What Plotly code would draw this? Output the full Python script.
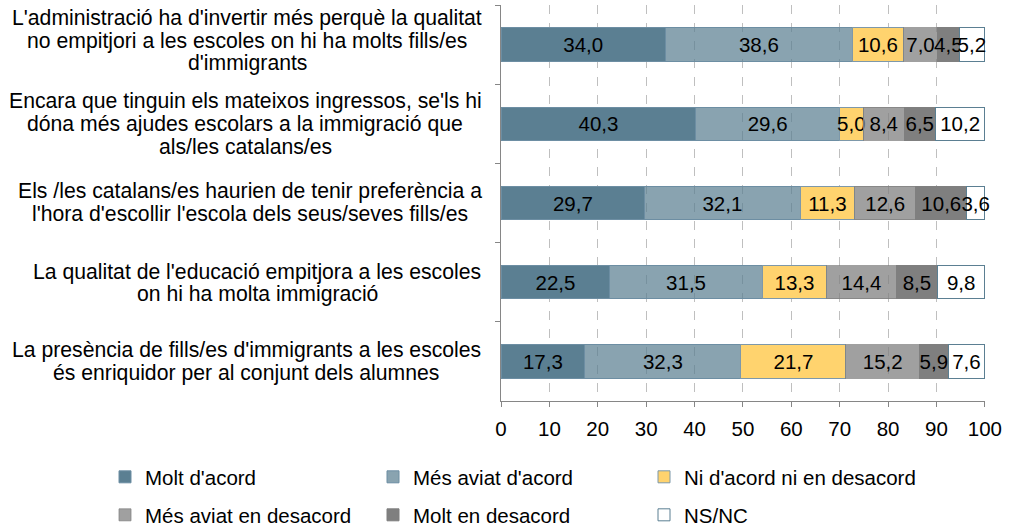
import plotly.graph_objects as go

category_lines = [
    ["L'administració ha d'invertir més perquè la qualitat",
     "no empitjori a les escoles on hi ha molts fills/es",
     "d'immigrants"],
    ["Encara que tinguin els mateixos ingressos, se'ls hi",
     "dóna més ajudes escolars a la immigració que",
     "als/les catalans/es"],
    ["Els /les catalans/es haurien de tenir preferència a",
     "l'hora d'escollir l'escola dels seus/seves fills/es"],
    ["La qualitat de l'educació empitjora a les escoles",
     "on hi ha molta immigració"],
    ["La presència de fills/es d'immigrants a les escoles",
     "és enriquidor per al conjunt dels alumnes"],
]
cat_ids = ["c1", "c2", "c3", "c4", "c5"]

series_names = ["Molt d'acord", "Més aviat d'acord", "Ni d'acord ni en desacord",
                "Més aviat en desacord", "Molt en desacord", "NS/NC"]

molt_acord = [34.0, 40.3, 29.7, 22.5, 17.3]
mes_aviat_acord = [38.6, 29.6, 32.1, 31.5, 32.3]
ni_ni = [10.6, 5.0, 11.3, 13.3, 21.7]
mes_aviat_desacord = [7.0, 8.4, 12.6, 14.4, 15.2]
molt_desacord = [4.5, 6.5, 10.6, 8.5, 5.9]
ns_nc = [5.2, 10.2, 3.6, 9.8, 7.6]

values = [molt_acord, mes_aviat_acord, ni_ni, mes_aviat_desacord, molt_desacord, ns_nc]
fills = ["#5b7f92", "rgba(91,127,146,0.72)", "#ffd36e", "rgba(128,128,128,0.75)", "#7f7f7f", "#ffffff"]
edges = ["#6d8ea3", "#6d8ea3", "#7d98aa", "rgba(128,128,128,0.75)", "#7f7f7f", "#5b7f92"]

FONT = "Liberation Sans, Arial, sans-serif"
FS = 20.5
FS_CAT = 21.2

W, H = 1009, 528
L, R, T, B = 501, 24, 5, 127
PW = W - L - R

legend_keys = ["legend", "legend2", "legend3", "legend4", "legend5", "legend6"]

fig = go.Figure()
for i, (name, vals) in enumerate(zip(series_names, values)):
    fig.add_trace(go.Bar(
        y=cat_ids, x=vals, name=name, orientation="h",
        marker=dict(color=fills[i], line=dict(color=edges[i], width=1)),
        text=[f"{v:.1f}".replace(".", ",") for v in vals],
        textposition="inside", insidetextanchor="middle", textangle=0,
        constraintext="none", cliponaxis=False, showlegend=True,
        textfont=dict(family=FONT, size=FS, color="#000000"),
        hoverinfo="skip",
        legend=legend_keys[i],
    ))

# category labels: one annotation per line (tight line spacing, centred blocks)
block_centers_px = [247, 245, 249.5, 257, 246]
block_shift_px = [4, 0, 1, -1, 0]
LINE_H = 22.5
for cid, lines, cx, sh in zip(cat_ids, category_lines, block_centers_px, block_shift_px):
    n = len(lines)
    for j, line in enumerate(lines):
        fig.add_annotation(
            x=(cx - L) / PW, xref="paper", y=cid, yref="y", text=line, showarrow=False,
            xanchor="center", yanchor="middle", align="center",
            yshift=((n - 1) / 2 - j) * LINE_H + sh,
            font=dict(family=FONT, size=FS_CAT, color="#000000"),
        )

legend_common = dict(
    orientation="h", xref="container", yref="container", xanchor="left", yanchor="middle",
    itemwidth=30, font=dict(family=FONT, size=FS, color="#000000"),
    bgcolor="rgba(0,0,0,0)", borderwidth=0, itemclick=False, itemdoubleclick=False,
)
col_x = [105, 373, 644]
row_y = [477, 515]
legend_layout = {}
for i, key in enumerate(legend_keys):
    r, c = divmod(i, 3)
    legend_layout[key] = dict(x=col_x[c] / W, y=1 - row_y[r] / H, **legend_common)

fig.update_layout(
    width=W, height=H,
    margin=dict(l=L, r=R, t=T, b=B, pad=0),
    barmode="stack", bargap=0.58, showlegend=True,
    paper_bgcolor="white", plot_bgcolor="white",
    font=dict(family=FONT, size=FS, color="#000000"),
    uniformtext=dict(minsize=FS, mode="show"),
    xaxis=dict(
        range=[0, 100.03], tickvals=list(range(0, 101, 10)), showgrid=True, gridcolor="#bfbfbf",
        griddash="dash", gridwidth=1, showline=True, linecolor="#868686", linewidth=1,
        ticks="outside", ticklen=5, tickcolor="#868686", zeroline=False,
        ticklabelstandoff=4,
        tickfont=dict(family=FONT, size=FS, color="#000000"),
    ),
    yaxis=dict(
        type="category", autorange="reversed", showticklabels=False,
        showline=True, linecolor="#868686", linewidth=1,
        ticks="outside", ticklen=5, tickcolor="#868686", tickson="boundaries",
        showgrid=False, zeroline=False,
    ),
    **legend_layout,
)

fig.write_html("out.html", config={"displayModeBar": False},
               post_script="document.body.style.margin='0';")
